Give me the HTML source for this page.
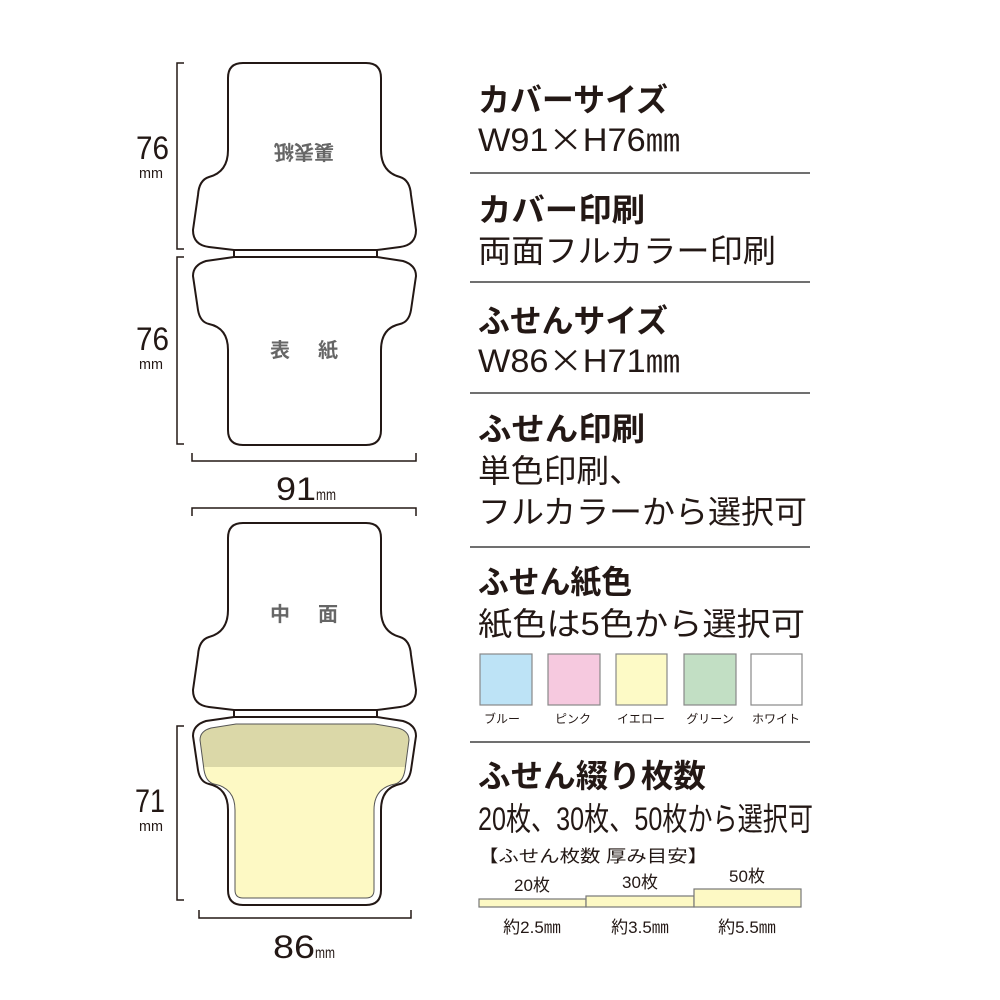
<!DOCTYPE html>
<html><head><meta charset="utf-8"><style>
html,body{margin:0;padding:0;background:#fff;}
svg{display:block;font-family:"Liberation Sans","Noto Sans CJK JP",sans-serif;}
</style></head><body>
<svg width="1000" height="1000" viewBox="0 0 1000 1000" xmlns="http://www.w3.org/2000/svg">
<defs>
<path id="topS" d="M243,63 H366 Q381,63 381,78 V150 Q381,172 400,177 Q410,180 411,195 L416,230 Q416,245 400,247 L377,250 H234 L209,247 Q193,245 193,230 L198,195 Q199,180 209,177 Q228,172 228,150 V78 Q228,63 243,63 Z"/>
<path id="botS" d="M234,257 H377 L403,261 Q416,265 416,276 L411,310 Q409,322 400,324 Q381,328 381,350 V430 Q381,445 366,445 H243 Q228,445 228,430 V350 Q228,328 209,324 Q200,322 198,310 L193,276 Q193,265 206,261 Z"/>
<path id="padIn" d="M236,724 H375 L398,728 Q409,731 409,740 L405,770 Q403,782 395,784 Q374,788 374,810 V890 Q374,898 366,898 H243 Q235,898 235,890 V810 Q235,788 214,784 Q206,782 204,770 L200,740 Q200,731 211,728 Z"/>
<clipPath id="padClip"><use href="#padIn"/></clipPath>
</defs>
<g fill="#fff" stroke="#231815" stroke-width="2">
<use href="#topS"/>
<rect x="234" y="250" width="143" height="7"/>
<use href="#botS"/>
<use href="#topS" transform="translate(0,460)"/>
<rect x="234" y="710" width="143" height="7"/>
<use href="#botS" transform="translate(0,460)"/>
</g>
<g clip-path="url(#padClip)">
<rect x="180" y="700" width="260" height="220" fill="#fdf9c4"/>
<rect x="180" y="700" width="260" height="67" fill="#dbd8a8"/>
</g>
<use href="#padIn" fill="none" stroke="#555" stroke-width="1"/>
<g fill="#666" font-weight="bold" font-size="20">
<text x="304" y="152" text-anchor="middle" transform="rotate(180 304 152)" dy="7">裏表紙</text>
<text x="270" y="357">表</text><text x="318" y="357">紙</text>
<text x="270" y="621">中</text><text x="318" y="621">面</text>
</g>
<g fill="none" stroke="#231815" stroke-width="1.5">
<path d="M184,63 H177 V249 H184"/>
<path d="M184,257 H177 V444 H184"/>
<path d="M192,453 V461 H416 V453"/>
<path d="M192,516 V508 H416 V516"/>
<path d="M184,726 H177 V900 H184"/>
<path d="M199,910 V918 H411 V910"/>
</g>
<g fill="#231815">
<text x="136" y="159" font-size="32" textLength="33" lengthAdjust="spacingAndGlyphs">76</text>
<text x="139" y="178" font-size="15" textLength="24" lengthAdjust="spacingAndGlyphs">mm</text>
<text x="136" y="350" font-size="32" textLength="33" lengthAdjust="spacingAndGlyphs">76</text>
<text x="139" y="369" font-size="15" textLength="24" lengthAdjust="spacingAndGlyphs">mm</text>
<text x="135" y="812" font-size="32" textLength="30" lengthAdjust="spacingAndGlyphs">71</text>
<text x="139" y="831" font-size="15" textLength="24" lengthAdjust="spacingAndGlyphs">mm</text>
<text x="276" y="500" font-size="32" textLength="40" lengthAdjust="spacingAndGlyphs">91</text>
<text x="316" y="500" font-size="16" textLength="20" lengthAdjust="spacingAndGlyphs">mm</text>
<text x="273" y="958" font-size="32" textLength="42" lengthAdjust="spacingAndGlyphs">86</text>
<text x="315" y="958" font-size="16" textLength="20" lengthAdjust="spacingAndGlyphs">mm</text>
</g>
<g stroke="#707070" stroke-width="2">
<line x1="470" y1="173" x2="810" y2="173"/>
<line x1="470" y1="282" x2="810" y2="282"/>
<line x1="470" y1="393" x2="810" y2="393"/>
<line x1="470" y1="547" x2="810" y2="547"/>
<line x1="470" y1="742" x2="810" y2="742"/>
</g>
<g fill="#231815" font-size="32">
<text x="478" y="111" font-weight="bold" textLength="190" lengthAdjust="spacingAndGlyphs">カバーサイズ</text>
<text x="478" y="151" textLength="202" lengthAdjust="spacingAndGlyphs">W91<tspan font-family="Noto Sans CJK JP, sans-serif">×</tspan>H76㎜</text>
<text x="478" y="221" font-weight="bold" textLength="167" lengthAdjust="spacingAndGlyphs">カバー印刷</text>
<text x="478" y="262" textLength="298" lengthAdjust="spacingAndGlyphs">両面フルカラー印刷</text>
<text x="478" y="332" font-weight="bold" textLength="190" lengthAdjust="spacingAndGlyphs">ふせんサイズ</text>
<text x="478" y="372" textLength="202" lengthAdjust="spacingAndGlyphs">W86<tspan font-family="Noto Sans CJK JP, sans-serif">×</tspan>H71㎜</text>
<text x="478" y="440" font-weight="bold" textLength="167" lengthAdjust="spacingAndGlyphs">ふせん印刷</text>
<text x="478" y="482" textLength="164" lengthAdjust="spacingAndGlyphs">単色印刷、</text>
<text x="478" y="523" textLength="329" lengthAdjust="spacingAndGlyphs">フルカラーから選択可</text>
<text x="478" y="593" font-weight="bold" textLength="154" lengthAdjust="spacingAndGlyphs">ふせん紙色</text>
<text x="478" y="635" textLength="327" lengthAdjust="spacingAndGlyphs">紙色は5色から選択可</text>
<text x="478" y="787" font-weight="bold" textLength="228" lengthAdjust="spacingAndGlyphs">ふせん綴り枚数</text>
<text x="478" y="830" textLength="335" lengthAdjust="spacingAndGlyphs">20枚、30枚、50枚から選択可</text>
<text x="478" y="862" font-size="17" textLength="230" lengthAdjust="spacingAndGlyphs">【ふせん枚数 厚み目安】</text>
</g>
<g stroke="#888" stroke-width="1.2">
<rect x="480" y="654" width="52" height="51" fill="#bde3f6"/>
<rect x="548" y="654" width="52" height="51" fill="#f6c9df"/>
<rect x="616" y="654" width="51" height="51" fill="#fdfac6"/>
<rect x="684" y="654" width="52" height="51" fill="#c2dfc4"/>
<rect x="751" y="654" width="51" height="51" fill="#fff"/>
</g>
<g fill="#231815" font-size="12" text-anchor="middle">
<text x="502" y="723">ブルー</text>
<text x="573" y="723">ピンク</text>
<text x="641" y="723">イエロー</text>
<text x="710" y="723">グリーン</text>
<text x="776" y="723">ホワイト</text>
</g>
<g fill="#fdf9c4" stroke="#777" stroke-width="1.2">
<rect x="479" y="899" width="107" height="8"/>
<rect x="586" y="896" width="108" height="11"/>
<rect x="694" y="889" width="107" height="18"/>
</g>
<g fill="#231815" font-size="17" text-anchor="middle">
<text x="532" y="891">20枚</text>
<text x="640" y="888">30枚</text>
<text x="747" y="882">50枚</text>
<text x="532" y="933">約2.5㎜</text>
<text x="640" y="933">約3.5㎜</text>
<text x="747" y="933">約5.5㎜</text>
</g>
</svg>
</body></html>
